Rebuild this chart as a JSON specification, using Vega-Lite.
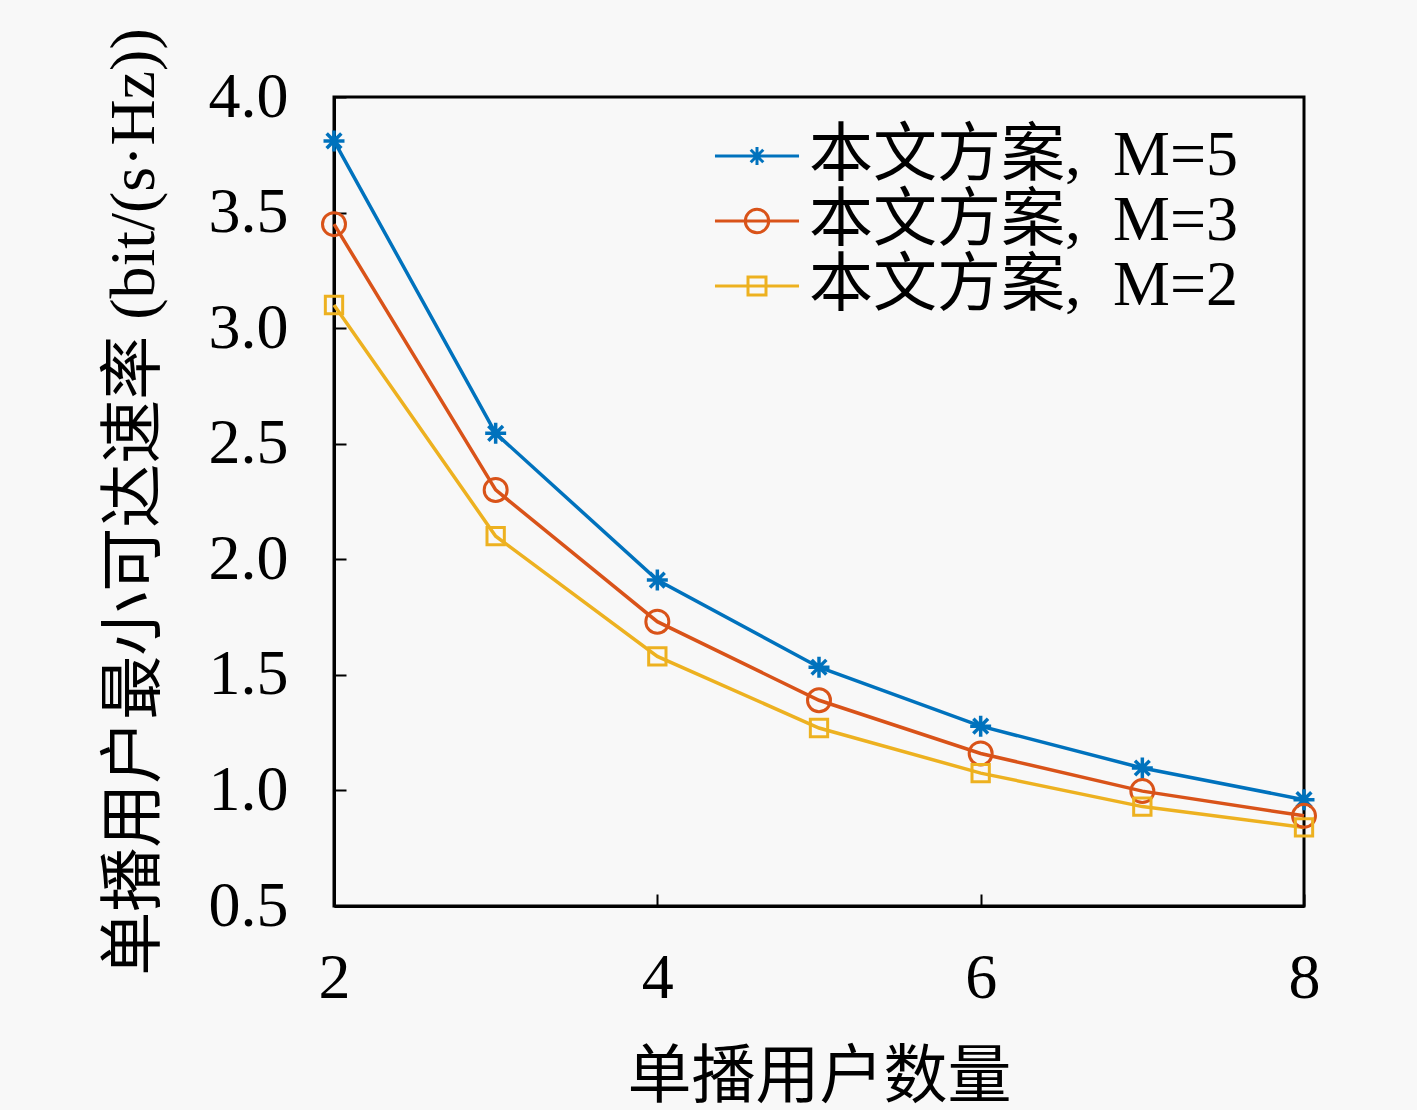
{
  "$schema": "https://vega.github.io/schema/vega-lite/v6.json",
  "width": 970,
  "height": 809,
  "autosize": "none",
  "padding": {"left": 334, "top": 97, "right": 113, "bottom": 204},
  "background": "#f8f8f8",
  "data": {
    "values": [
      {"n": 2, "s": "本文方案,\u2002M=5", "r": 3.81},
      {"n": 3, "s": "本文方案,\u2002M=5", "r": 2.545},
      {"n": 4, "s": "本文方案,\u2002M=5", "r": 1.91},
      {"n": 5, "s": "本文方案,\u2002M=5", "r": 1.533},
      {"n": 6, "s": "本文方案,\u2002M=5", "r": 1.278},
      {"n": 7, "s": "本文方案,\u2002M=5", "r": 1.097},
      {"n": 8, "s": "本文方案,\u2002M=5", "r": 0.96},
      {"n": 2, "s": "本文方案,\u2002M=3", "r": 3.45},
      {"n": 3, "s": "本文方案,\u2002M=3", "r": 2.30},
      {"n": 4, "s": "本文方案,\u2002M=3", "r": 1.73},
      {"n": 5, "s": "本文方案,\u2002M=3", "r": 1.39},
      {"n": 6, "s": "本文方案,\u2002M=3", "r": 1.16},
      {"n": 7, "s": "本文方案,\u2002M=3", "r": 0.997},
      {"n": 8, "s": "本文方案,\u2002M=3", "r": 0.89},
      {"n": 2, "s": "本文方案,\u2002M=2", "r": 3.10},
      {"n": 3, "s": "本文方案,\u2002M=2", "r": 2.10},
      {"n": 4, "s": "本文方案,\u2002M=2", "r": 1.58},
      {"n": 5, "s": "本文方案,\u2002M=2", "r": 1.27},
      {"n": 6, "s": "本文方案,\u2002M=2", "r": 1.075},
      {"n": 7, "s": "本文方案,\u2002M=2", "r": 0.93},
      {"n": 8, "s": "本文方案,\u2002M=2", "r": 0.84}
    ]
  },
  "encoding": {
    "x": {
      "field": "n",
      "type": "quantitative",
      "title": "单播用户数量",
      "scale": {"domain": [2, 8], "nice": false},
      "axis": {"values": [2, 4, 6, 8], "labelPadding": 52, "titlePadding": 35}
    },
    "y": {
      "field": "r",
      "type": "quantitative",
      "title": "单播用户最小可达速率 (bit/(s·Hz))",
      "scale": {"domain": [0.5, 4.0], "nice": false},
      "axis": {"values": [0.5, 1, 1.5, 2, 2.5, 3, 3.5, 4], "format": ".1f", "labelPadding": 58, "titlePadding": 42}
    },
    "color": {
      "field": "s",
      "type": "nominal",
      "scale": {
        "domain": ["本文方案,\u2002M=5", "本文方案,\u2002M=3", "本文方案,\u2002M=2"],
        "range": ["#0072BD", "#D95319", "#EDB120"]
      },
      "legend": {
        "title": null,
        "orient": "none",
        "legendX": 391,
        "legendY": 27,
        "symbolSize": 324,
        "symbolStrokeWidth": 3,
        "symbolFillColor": "transparent",
        "labelOffset": 20,
        "rowPadding": 1,
        "labelFontSize": 64,
        "labelFont": "Liberation Serif, Noto Sans CJK SC",
        "labelColor": "black",
        "labelLimit": 800,
        "encode": {
          "symbols": {
            "update": {
              "shape": {"signal": "indexof(datum.label, 'M=5') >= 0 ? 'M-4.67,0H4.67M0,-1V1M-1,0H1M-0.7,-0.7L0.7,0.7M-0.7,0.7L0.7,-0.7' : indexof(datum.label, 'M=3') >= 0 ? 'M-4.67,0H4.67M-1.3,0A1.3,1.3 0 1,0 1.3,0A1.3,1.3 0 1,0 -1.3,0Z' : 'M-4.67,0H4.67M-1,-1H1V1H-1Z'"},
              "fill": {"value": "transparent"},
              "strokeWidth": {"value": 3}
            }
          }
        }
      }
    }
  },
  "layer": [
    {
      "mark": {"type": "line", "strokeWidth": 3.5}
    },
    {
      "transform": [{"filter": "indexof(datum.s, 'M=5') >= 0"}],
      "mark": {"type": "point", "filled": false, "strokeWidth": 3.5, "opacity": 1, "size": 440,
        "shape": "M0,-1V1M-1,0H1M-0.7,-0.7L0.7,0.7M-0.7,0.7L0.7,-0.7"}
    },
    {
      "transform": [{"filter": "indexof(datum.s, 'M=3') >= 0"}],
      "mark": {"type": "point", "filled": false, "strokeWidth": 3, "opacity": 1, "size": 529, "shape": "circle"}
    },
    {
      "transform": [{"filter": "indexof(datum.s, 'M=2') >= 0"}],
      "mark": {"type": "point", "filled": false, "strokeWidth": 3, "opacity": 1, "size": 300, "shape": "square"}
    }
  ],
  "config": {
    "font": "Liberation Serif, Noto Sans CJK SC",
    "view": {"stroke": "black", "strokeWidth": 3},
    "axis": {
      "grid": false,
      "domainColor": "black",
      "domainWidth": 3,
      "tickColor": "black",
      "tickWidth": 2,
      "tickSize": -12,
      "labelFont": "Liberation Serif, Noto Sans CJK SC",
      "labelFontSize": 64,
      "labelColor": "black",
      "titleFont": "Liberation Serif, Noto Sans CJK SC",
      "titleFontSize": 64,
      "titleFontWeight": "normal",
      "titleColor": "black",
      "labelFlush": false
    }
  }
}
